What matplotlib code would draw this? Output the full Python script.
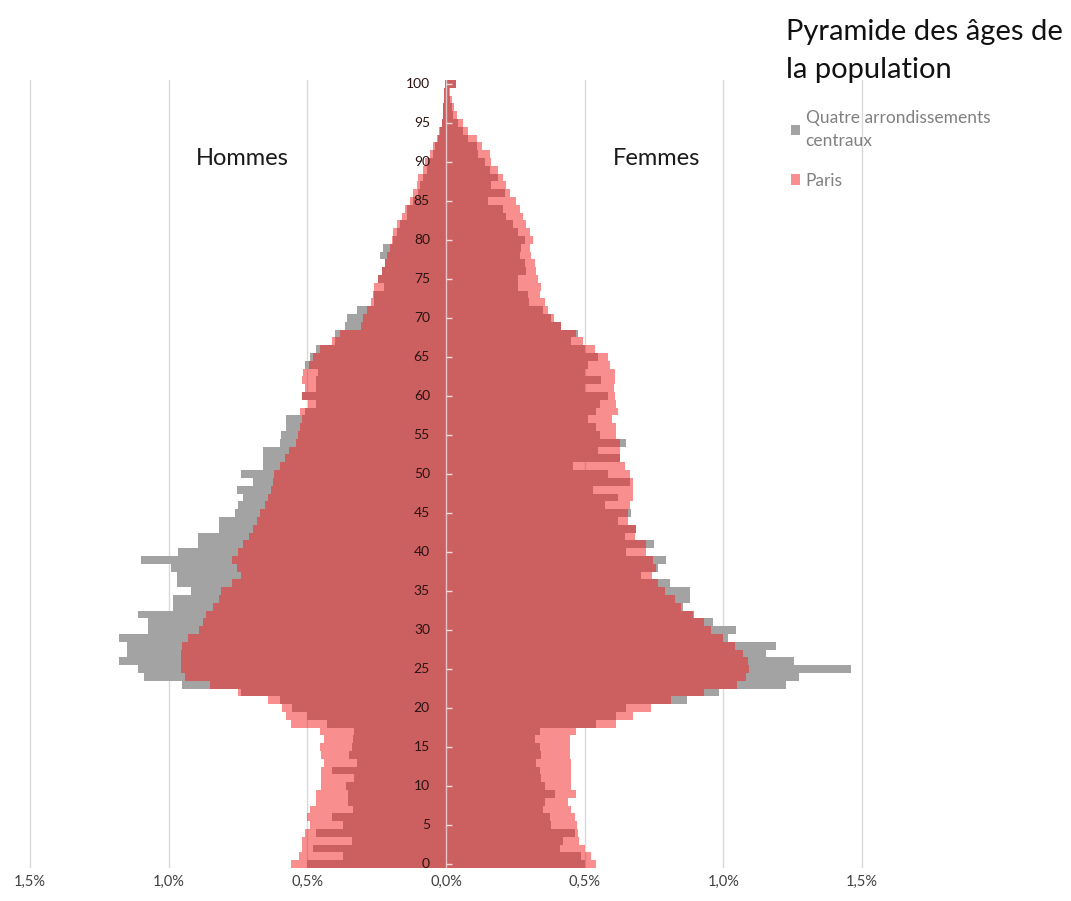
import numpy as np
import matplotlib
matplotlib.use("Agg")
import matplotlib.pyplot as plt

# ages 0..100, values in % of total population
ages = np.arange(0, 101)

# Hommes - quatre arrondissements centraux
men_centre = [
    0.50, 0.37, 0.48, 0.34, 0.47, 0.37, 0.41, 0.335, 0.355, 0.355,
    0.36, 0.33, 0.41, 0.32, 0.35, 0.34, 0.335, 0.33, 0.43, 0.50,
    0.555, 0.60, 0.74, 0.95, 1.09, 1.11, 1.18, 1.15, 1.15, 1.18,
    1.075, 1.075, 1.11, 0.985, 0.985, 0.92, 0.97, 0.97, 0.99, 1.10,
    0.965, 0.895, 0.895, 0.82, 0.82, 0.76, 0.75, 0.73, 0.755, 0.695,
    0.74, 0.66, 0.66, 0.66, 0.60, 0.595, 0.575, 0.575, 0.51, 0.47,
    0.52, 0.47, 0.467, 0.46, 0.51, 0.49, 0.467, 0.40, 0.40, 0.365,
    0.358, 0.32, 0.26, 0.262, 0.225, 0.245, 0.232, 0.22, 0.238, 0.227,
    0.19, 0.178, 0.166, 0.142, 0.14, 0.118, 0.10, 0.094, 0.082, 0.07,
    0.064, 0.047, 0.04, 0.028, 0.022, 0.016, 0.012, 0.01, 0.008, 0.006,
    0.004,
]

# Hommes - Paris
men_paris = [
    0.56, 0.53, 0.52, 0.52, 0.51, 0.49, 0.50, 0.49, 0.47, 0.467,
    0.45, 0.45, 0.45, 0.44, 0.45, 0.455, 0.44, 0.455, 0.56, 0.575,
    0.59, 0.64, 0.75, 0.85, 0.94, 0.955, 0.955, 0.955, 0.95, 0.93,
    0.89, 0.875, 0.865, 0.84, 0.82, 0.81, 0.77, 0.74, 0.755, 0.77,
    0.75, 0.73, 0.71, 0.695, 0.683, 0.67, 0.653, 0.64, 0.63, 0.623,
    0.62, 0.60, 0.58, 0.565, 0.54, 0.535, 0.527, 0.52, 0.527, 0.497,
    0.52, 0.51, 0.52, 0.515, 0.495, 0.48, 0.455, 0.41, 0.383, 0.305,
    0.30, 0.286, 0.27, 0.26, 0.26, 0.245, 0.232, 0.22, 0.214, 0.202,
    0.196, 0.19, 0.178, 0.16, 0.148, 0.13, 0.118, 0.106, 0.10, 0.082,
    0.076, 0.058, 0.046, 0.034, 0.024, 0.016, 0.012, 0.01, 0.008, 0.006,
    0.004,
]

# Femmes - quatre arrondissements centraux
women_centre = [
    0.50, 0.488, 0.41, 0.42, 0.464, 0.38, 0.374, 0.35, 0.356, 0.392,
    0.356, 0.344, 0.338, 0.326, 0.344, 0.338, 0.32, 0.338, 0.54, 0.614,
    0.65, 0.87, 0.985, 1.225, 1.273, 1.46, 1.255, 1.153, 1.19, 1.015,
    1.046, 0.962, 0.895, 0.855, 0.878, 0.878, 0.806, 0.704, 0.765, 0.794,
    0.65, 0.75, 0.644, 0.686, 0.62, 0.668, 0.572, 0.62, 0.53, 0.662,
    0.584, 0.458, 0.626, 0.548, 0.65, 0.554, 0.54, 0.512, 0.54, 0.554,
    0.584, 0.50, 0.56, 0.50, 0.512, 0.548, 0.50, 0.452, 0.475, 0.416,
    0.38, 0.35, 0.30, 0.296, 0.26, 0.26, 0.29, 0.284, 0.266, 0.272,
    0.284, 0.26, 0.242, 0.218, 0.206, 0.152, 0.212, 0.164, 0.188, 0.158,
    0.14, 0.116, 0.11, 0.08, 0.062, 0.045, 0.027, 0.02, 0.015, 0.012,
    0.035,
]

# Femmes - Paris
women_paris = [
    0.54, 0.524, 0.50, 0.48, 0.476, 0.474, 0.465, 0.452, 0.438, 0.47,
    0.452, 0.452, 0.452, 0.45, 0.446, 0.446, 0.446, 0.47, 0.614, 0.674,
    0.74, 0.81, 0.93, 1.05, 1.082, 1.094, 1.087, 1.07, 1.04, 1.0,
    0.955, 0.93, 0.89, 0.848, 0.824, 0.788, 0.764, 0.742, 0.758, 0.745,
    0.722, 0.722, 0.68, 0.686, 0.656, 0.656, 0.662, 0.674, 0.674, 0.674,
    0.664, 0.644, 0.626, 0.626, 0.626, 0.614, 0.614, 0.60, 0.62, 0.614,
    0.608, 0.605, 0.61, 0.608, 0.59, 0.584, 0.536, 0.494, 0.47, 0.416,
    0.39, 0.368, 0.356, 0.338, 0.344, 0.332, 0.326, 0.32, 0.308, 0.302,
    0.314, 0.302, 0.29, 0.278, 0.266, 0.254, 0.23, 0.218, 0.206, 0.188,
    0.164, 0.158, 0.128, 0.11, 0.08, 0.062, 0.04, 0.03, 0.022, 0.015,
    0.035,
]

xticks = [-1.5, -1.0, -0.5, 0.0, 0.5, 1.0, 1.5]
xticklabels = ["1,5%", "1,0%", "0,5%", "0,0%", "0,5%", "1,0%", "1,5%"]
age_ticks = list(range(0, 101, 5))

grey = "#a3a3a3"
red = "#f51e1e"

plt.rcParams['font.family'] = ['Lato', 'DejaVu Sans']

fig = plt.figure(figsize=(10.71, 9.01), dpi=100)
ax = fig.add_axes([16 / 1071, 33 / 901, 860 / 1071, 788 / 901])

# grid behind bars
for x in xticks:
    if x != 0:
        ax.axvline(x, color="#d9d9d9", lw=1, zorder=0)

ax.barh(ages, -np.array(men_centre), height=1.0, color=grey, lw=0,
        antialiased=False, zorder=1, label="Quatre arrondissements\ncentraux")
ax.barh(ages, np.array(women_centre), height=1.0, color=grey, lw=0,
        antialiased=False, zorder=1)
ax.barh(ages, -np.array(men_paris), height=1.0, color=red, alpha=0.5, lw=0,
        antialiased=False, zorder=2, label="Paris")
ax.barh(ages, np.array(women_paris), height=1.0, color=red, alpha=0.5, lw=0,
        antialiased=False, zorder=2)

# centre axis with small ticks
ax.axvline(0, color="#eeeeee", lw=1, alpha=0.7, zorder=3)
ax.hlines(age_ticks, 0, 0.022, color="#f3dada", lw=1, zorder=3)
for a in age_ticks:
    ax.text(-0.058, a, str(a), ha="right", va="center", fontsize=10,
            color="#2a1212", zorder=4)

ax.set_xlim(-1.55, 1.55)
ax.set_ylim(-0.5, 100.5)
ax.set_xticks(xticks)
ax.set_xticklabels(xticklabels, fontsize=10.5, color="#404040")
ax.tick_params(axis="x", length=0, pad=5)
ax.set_yticks([])
for s in ax.spines.values():
    s.set_visible(False)

ax.text(-0.735, 90.5, "Hommes", ha="center", va="center", fontsize=17,
        color="#1a1a1a")
ax.text(0.76, 90.5, "Femmes", ha="center", va="center", fontsize=17,
        color="#1a1a1a")

fig.text(786 / 1071, 1 - 32 / 901, "Pyramide des âges de", ha="left",
         va="center", fontsize=21, color="#111111")
fig.text(786 / 1071, 1 - 70 / 901, "la population", ha="left",
         va="center", fontsize=21, color="#111111")

leg = fig.legend(loc="upper left", bbox_to_anchor=(784 / 1071, 1 - 103 / 901),
                 frameon=False, fontsize=12.5, labelcolor="#808080",
                 handlelength=0.55, handleheight=0.55, handletextpad=0.3,
                 labelspacing=1.35, borderaxespad=0)
for t in leg.get_texts():
    t.set_linespacing(1.55)

fig.savefig("out.png", dpi=100)
